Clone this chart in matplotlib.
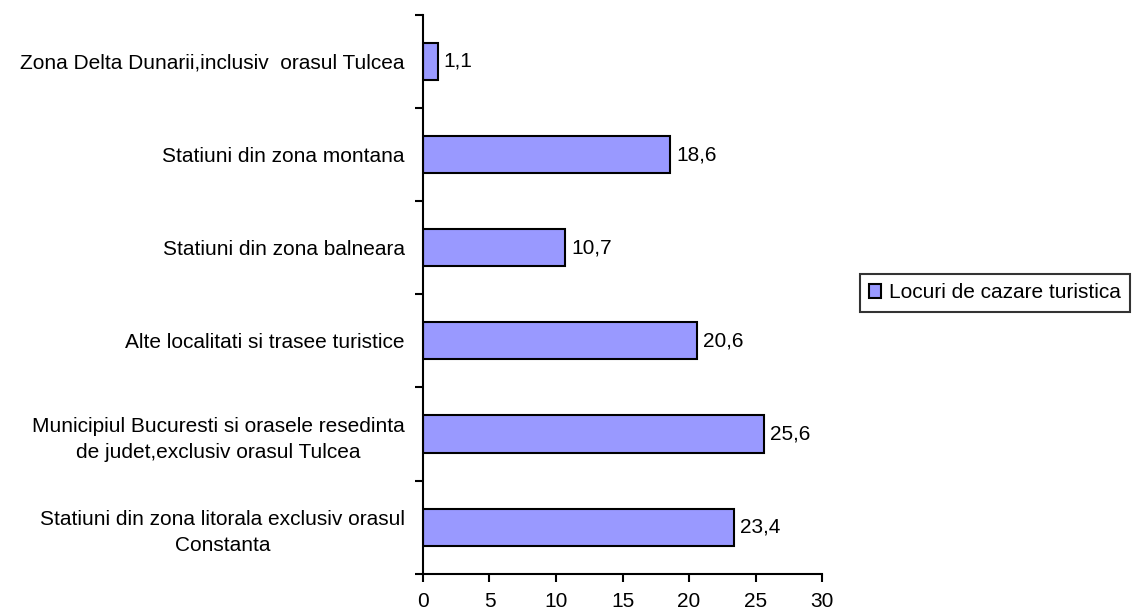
import numpy as np
import matplotlib.pyplot as plt

plt.rcParams['font.family'] = ['Liberation Sans', 'DejaVu Sans']

# categories from top to bottom, as in the chart
categories = ['Zona Delta Dunarii,inclusiv  orasul Tulcea',
              'Statiuni din zona montana',
              'Statiuni din zona balneara',
              'Alte localitati si trasee turistice',
              'Municipiul Bucuresti si orasele resedinta\nde judet,exclusiv orasul Tulcea',
              'Statiuni din zona litorala exclusiv orasul\nConstanta']
values = [1.1, 18.6, 10.7, 20.6, 25.6, 23.4]
series_name = 'Locuri de cazare turistica'
xticks = [0, 5, 10, 15, 20, 25, 30]

fs = 15

fig = plt.figure(figsize=(11.37, 6.15), dpi=100)
ax = fig.add_axes([0.372, 0.067, 0.351, 0.909])

y = np.arange(len(categories))
bars = ax.barh(y, values, height=0.4, color='#9999FF', edgecolor='black',
               linewidth=1.5, label=series_name)

#labels with a comma as decimal separator
for b, v in zip(bars, values):
    ax.text(b.get_width() + 0.45, b.get_y() + b.get_height() / 2,
            ('%.1f' % v).replace('.', ','), va='center', ha='left', fontsize=fs)

ax.set_ylim(len(categories) - 0.5, -0.5)
ax.set_xlim(0, 30)
ax.set_xticks(xticks)
ax.set_xticklabels([str(t) for t in xticks], fontsize=fs)

# ticks sit between categories, labels sit on the bars
ax.set_yticks(np.arange(len(categories) + 1) - 0.5)
ax.set_yticklabels([])
ax.set_yticks(y, minor=True)
ax.set_yticklabels(categories, minor=True, fontsize=fs, ha='right',
                   multialignment='center', linespacing=1.45)
ax.tick_params(axis='y', which='minor', length=0, pad=13)
ax.tick_params(axis='y', which='major', length=6, width=1.5, direction='out')
ax.tick_params(axis='x', length=6, width=1.5, direction='out', pad=7)

for s in ['top', 'right']:
    ax.spines[s].set_visible(False)
for s in ['left', 'bottom']:
    ax.spines[s].set_linewidth(1.5)

leg = fig.legend(loc='center left', bbox_to_anchor=(0.756, 0.524), fontsize=fs,
                 frameon=True, fancybox=False, edgecolor='black',
                 handlelength=0.6, handleheight=0.6, handletextpad=0.35,
                 borderpad=0.45, borderaxespad=0)
leg.get_frame().set_linewidth(1.5)

fig.savefig('out.png', dpi=100)
